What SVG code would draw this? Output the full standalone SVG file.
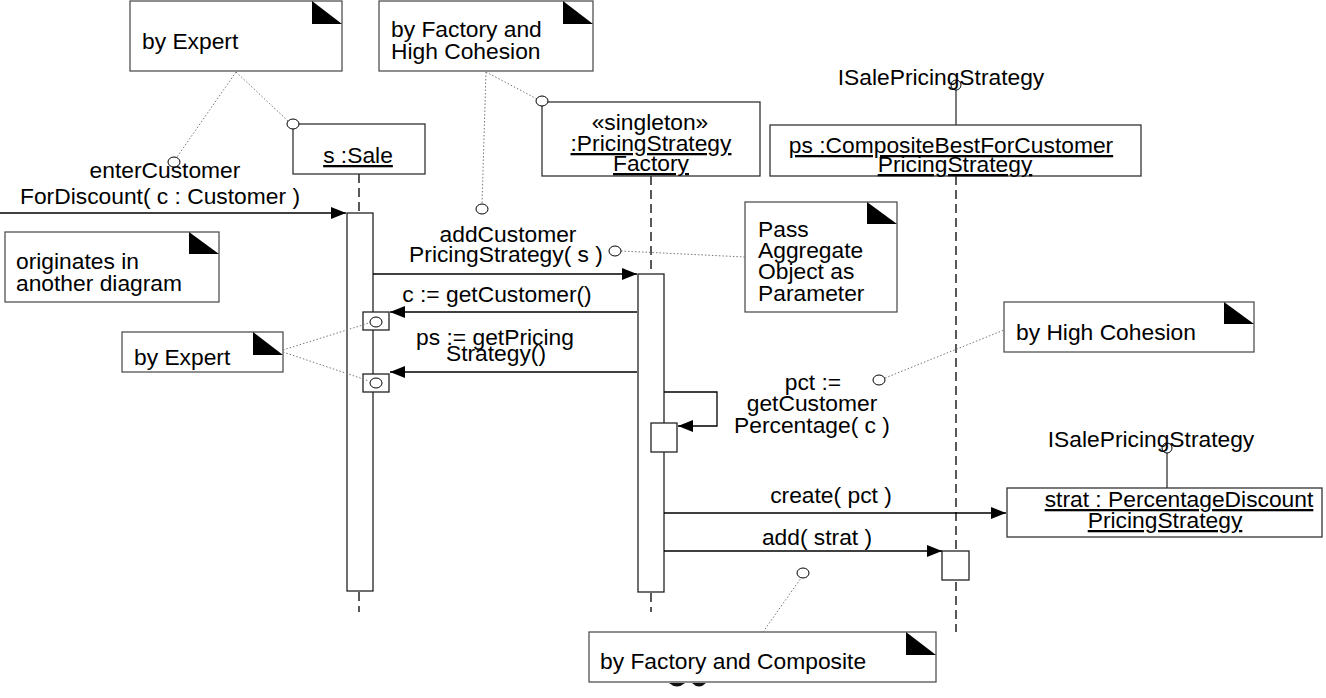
<svg xmlns="http://www.w3.org/2000/svg" width="1326" height="698" viewBox="0 0 1326 698">
<style>
text{font-family:"Liberation Sans",Arial,sans-serif;font-size:22.8px;fill:#000}
.c{text-anchor:middle}
.u{text-decoration:underline}
.box{fill:#fff;stroke:#333;stroke-width:1.3}
.note{fill:#fff;stroke:#444;stroke-width:1.2}
.ear{fill:#000}
.life{stroke:#000;stroke-width:1.3;stroke-dasharray:9 5;fill:none}
.act{fill:#fff;stroke:#222;stroke-width:1.3}
.msg{stroke:#000;stroke-width:1.3;fill:none;marker-end:url(#ah)}
.dot{stroke:#777;stroke-width:1;stroke-dasharray:1.5 2;fill:none}
.anc{fill:#fff;stroke:#000;stroke-width:1}
.lol{stroke:#333;stroke-width:1.3;fill:none}
</style>
<defs>
<marker id="ah" markerUnits="userSpaceOnUse" markerWidth="16" markerHeight="14" refX="15" refY="6" orient="auto">
<path d="M0,0 L15,6 L0,12 Z" fill="#000"/>
</marker>
</defs>

<g id="note-expert-top">
<rect class="note" x="130" y="1" width="212" height="70"/>
<path class="ear" d="M312,1 L342,24 L312,24 Z"/>
<text x="142" y="49">by Expert</text>
</g>
<g id="note-factory-cohesion">
<rect class="note" x="379" y="1" width="214" height="70"/>
<path class="ear" d="M563,1 L593,24 L563,24 Z"/>
<text x="391" y="37">by Factory and</text>
<text x="391" y="59">High Cohesion</text>
</g>
<g id="note-pass-aggregate">
<rect class="note" x="745" y="202" width="152" height="110"/>
<path class="ear" d="M867,202 L897,224 L867,224 Z"/>
<text x="758" y="237">Pass</text>
<text x="758" y="258">Aggregate</text>
<text x="758" y="279">Object as</text>
<text x="758" y="301">Parameter</text>
</g>
<g id="note-originates">
<rect class="note" x="5" y="232" width="214" height="70"/>
<path class="ear" d="M189,232 L219,254 L189,254 Z"/>
<text x="16" y="269">originates in</text>
<text x="16" y="291">another diagram</text>
</g>
<g id="note-expert-mid">
<rect class="note" x="122" y="332" width="161" height="40"/>
<path class="ear" d="M253,332 L283,355 L253,355 Z"/>
<text x="134" y="365">by Expert</text>
</g>
<g id="note-high-cohesion">
<rect class="note" x="1004" y="302" width="250" height="50"/>
<path class="ear" d="M1224,302 L1254,324 L1224,324 Z"/>
<text x="1016" y="340">by High Cohesion</text>
</g>
<g id="note-factory-composite">
<rect class="note" x="589" y="632" width="347" height="50"/>
<path class="ear" d="M906,632 L936,655 L906,655 Z"/>
<text x="600" y="669">by Factory and Composite</text>
<path d="M669,683 Q677,690 685,683 Z M692,683 Q699,690 706,683 Z" fill="#111"/>
</g>

<g id="sale">
<line class="life" x1="359" y1="174" x2="359" y2="213"/>
<line class="life" x1="359" y1="592" x2="359" y2="612"/>
<rect class="box" x="293" y="124" width="132" height="50"/>
<text class="c u" x="358" y="163">s :Sale</text>
<rect class="act" x="347" y="213" width="26" height="378"/>
<rect class="act" x="363" y="312" width="26" height="18"/>
<rect class="act" x="363" y="374" width="26" height="18"/>
</g>

<g id="factory">
<line class="life" x1="651" y1="176" x2="651" y2="274"/>
<line class="life" x1="651" y1="593" x2="651" y2="612"/>
<rect class="box" x="542" y="102" width="218" height="74"/>
<text class="c" x="650" y="130">«singleton»</text>
<text class="c u" x="651" y="151">:PricingStrategy</text>
<text class="c u" x="651" y="171">Factory</text>
<rect class="act" x="638" y="274" width="26" height="318"/>
<rect class="act" x="651" y="423" width="26" height="29"/>
</g>

<g id="composite">
<line class="lol" x1="956" y1="90" x2="956" y2="125"/>
<circle class="anc" cx="956" cy="85" r="5"/>
<text class="c" x="941" y="85">ISalePricingStrategy</text>
<line class="life" x1="956" y1="176" x2="956" y2="632"/>
<rect class="box" x="770" y="125" width="371" height="51"/>
<text class="c u" x="951" y="153">ps :CompositeBestForCustomer</text>
<text class="c u" x="955" y="172">PricingStrategy</text>
<rect class="act" x="942" y="551" width="27" height="29"/>
</g>

<g id="strat">
<line class="lol" x1="1167" y1="453" x2="1167" y2="488"/>
<circle class="anc" cx="1167" cy="448" r="5"/>
<text class="c" x="1151" y="447">ISalePricingStrategy</text>
<rect class="box" x="1007" y="488" width="315" height="49"/>
<text class="c u" x="1179" y="507">strat : PercentageDiscount</text>
<text class="c u" x="1165" y="528">PricingStrategy</text>
</g>

<g id="connectors">
<line class="msg" x1="0" y1="213" x2="346" y2="213"/>
<text class="c" x="165" y="178">enterCustomer</text>
<text class="c" x="160" y="204">ForDiscount( c : Customer )</text>

<line class="msg" x1="373" y1="274" x2="637" y2="274"/>
<text class="c" x="508" y="242">addCustomer</text>
<text class="c" x="506" y="262">PricingStrategy( s )</text>

<line class="msg" x1="637" y1="312" x2="390" y2="312"/>
<text class="c" x="497" y="302">c := getCustomer()</text>

<line class="msg" x1="637" y1="372" x2="390" y2="372"/>
<text class="c" x="495" y="345">ps := getPricing</text>
<text class="c" x="496" y="361">Strategy()</text>

<path class="msg" d="M664,392 H717 V426 H678"/>
<text class="c" x="813" y="390">pct :=</text>
<text class="c" x="812" y="411">getCustomer</text>
<text class="c" x="812" y="433">Percentage( c )</text>

<line class="msg" x1="664" y1="513" x2="1006" y2="513"/>
<text class="c" x="831" y="503">create( pct )</text>

<line class="msg" x1="664" y1="551" x2="942" y2="551"/>
<text class="c" x="817" y="545">add( strat )</text>

<line class="dot" x1="236" y1="72" x2="177" y2="157"/>
<line class="dot" x1="236" y1="72" x2="288" y2="121"/>
<line class="dot" x1="486" y1="72" x2="482" y2="204"/>
<line class="dot" x1="486" y1="72" x2="537" y2="99"/>
<line class="dot" x1="621" y1="251" x2="745" y2="257"/>
<line class="dot" x1="283" y1="350" x2="369" y2="323"/>
<line class="dot" x1="283" y1="352" x2="369" y2="381"/>
<line class="dot" x1="885" y1="378" x2="1004" y2="330"/>
<line class="dot" x1="763" y1="632" x2="801" y2="578"/>

<ellipse class="anc" cx="174" cy="162" rx="6" ry="5"/>
<ellipse class="anc" cx="293" cy="124" rx="6" ry="5"/>
<ellipse class="anc" cx="482" cy="209" rx="6" ry="5"/>
<ellipse class="anc" cx="542" cy="101" rx="6" ry="5"/>
<ellipse class="anc" cx="615" cy="251" rx="6" ry="5"/>
<ellipse class="anc" cx="376" cy="322" rx="6" ry="5"/>
<ellipse class="anc" cx="376" cy="383" rx="6" ry="5"/>
<ellipse class="anc" cx="879" cy="380" rx="6" ry="5"/>
<ellipse class="anc" cx="803" cy="573" rx="6" ry="5"/>
</g>
</svg>
